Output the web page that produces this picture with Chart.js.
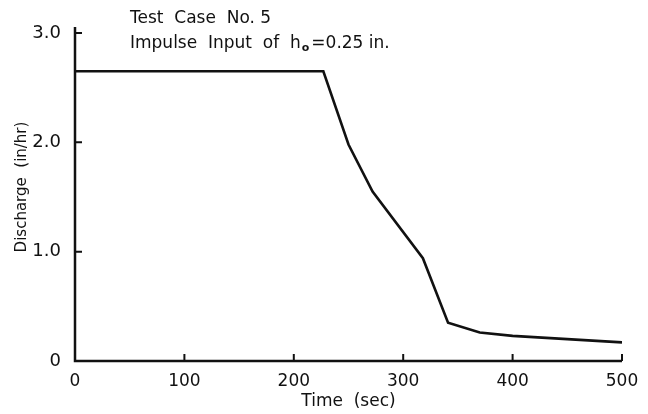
<!DOCTYPE html>
<html>
<head>
<meta charset="utf-8">
<script src="https://cdn.jsdelivr.net/npm/chart.js@4.4.1/dist/chart.umd.min.js"></script>
<style>
  html, body { margin: 0; padding: 0; background: #fff; }
  #wrap { width: 648px; height: 414px; position: relative; }
</style>
</head>
<body>
<div id="wrap"><canvas id="hydro"></canvas></div>
<script>
// Test case 5 outflow hydrograph
const timeSec = [0, 227, 250, 272, 318, 341, 370, 400, 450, 500];
const dischargeInHr = [2.65, 2.65, 1.98, 1.55, 0.94, 0.35, 0.26, 0.23, 0.20, 0.17];
const xTicks = [0, 100, 200, 300, 400, 500];
const yTicks = [0, 1.0, 2.0, 3.0];

const FONT = "'DejaVu Sans', 'Liberation Sans', sans-serif";
const INK = '#111';

// inward tick marks, axis lines, caption and y title
const decorPlugin = {
    id: 'decor',
    afterDraw(chart) {
        const ctx = chart.ctx;
        const x = chart.scales.x, y = chart.scales.y;
        const area = chart.chartArea;
        ctx.save();
        ctx.strokeStyle = INK;
        ctx.lineWidth = 2;
        ctx.beginPath();
        xTicks.forEach(t => {
            if (t === 0) return;
            const px = x.getPixelForValue(t);
            ctx.moveTo(px, area.bottom);
            ctx.lineTo(px, area.bottom - 7);
        });
        yTicks.forEach(v => {
            if (v === 0) return;
            const py = y.getPixelForValue(v);
            ctx.moveTo(area.left, py);
            ctx.lineTo(area.left + 7, py);
        });
        ctx.stroke();

        ctx.lineWidth = 2.5;
        ctx.beginPath();
        ctx.moveTo(area.left, area.top - 6);
        ctx.lineTo(area.left, area.bottom);
        ctx.lineTo(x.getPixelForValue(500), area.bottom);
        ctx.stroke();

        ctx.fillStyle = INK;
        ctx.textBaseline = 'alphabetic';
        ctx.textAlign = 'left';
        ctx.font = '17px ' + FONT;
        ctx.fillText('Test  Case  No. 5', 130, 23);
        const line2 = 'Impulse  Input  of  h';
        ctx.fillText(line2, 130, 48);
        let w = ctx.measureText(line2).width;
        ctx.font = 'bold 11px ' + FONT;
        ctx.fillText('o', 130 + w + 1, 51);
        w += ctx.measureText('o').width + 3;
        ctx.font = '17px ' + FONT;
        ctx.fillText('=0.25 in.', 130 + w, 48);

        // y axis title
        ctx.translate(22, 187);
        ctx.rotate(-Math.PI / 2);
        ctx.textAlign = 'center';
        ctx.textBaseline = 'middle';
        ctx.font = '15px ' + FONT;
        ctx.fillText('Discharge  (in/hr)', 0, 0);
        ctx.restore();
    }
};

new Chart(document.getElementById('hydro'), {
    type: 'scatter',
    data: {
        datasets: [{
            data: timeSec.map((t, i) => ({ x: t, y: dischargeInHr[i] })),
            showLine: true,
            borderColor: INK,
            borderWidth: 2.6,
            pointRadius: 0,
            tension: 0,
            fill: false
        }]
    },
    options: {
        responsive: true,
        maintainAspectRatio: false,
        animation: false,
        layout: { padding: { left: 0, right: 26, top: 33, bottom: 0 } },
        plugins: { legend: { display: false }, tooltip: { enabled: false } },
        scales: {
            x: {
                type: 'linear',
                min: 0, max: 500,
                afterBuildTicks: s => { s.ticks = xTicks.map(v => ({ value: v })); },
                afterFit: s => { s.height = 53; },
                border: { display: false },
                grid: { display: false },
                ticks: {
                    color: INK, padding: 2,
                    font: { family: FONT, size: 17 },
                    maxRotation: 0
                },
                title: {
                    display: true, text: 'Time  (sec)', color: INK,
                    font: { family: FONT, size: 17 },
                    padding: { top: 0, bottom: 2 }
                }
            },
            y: {
                min: 0, max: 3.0,
                afterBuildTicks: s => { s.ticks = yTicks.map(v => ({ value: v })); },
                afterFit: s => { s.width = 75; },
                border: { display: false },
                grid: { display: false },
                ticks: {
                    color: INK, padding: 6,
                    font: { family: FONT, size: 18 },
                    callback: v => v === 0 ? '0' : v.toFixed(1)
                }
            }
        }
    },
    plugins: [decorPlugin]
});
</script>
</body>
</html>
